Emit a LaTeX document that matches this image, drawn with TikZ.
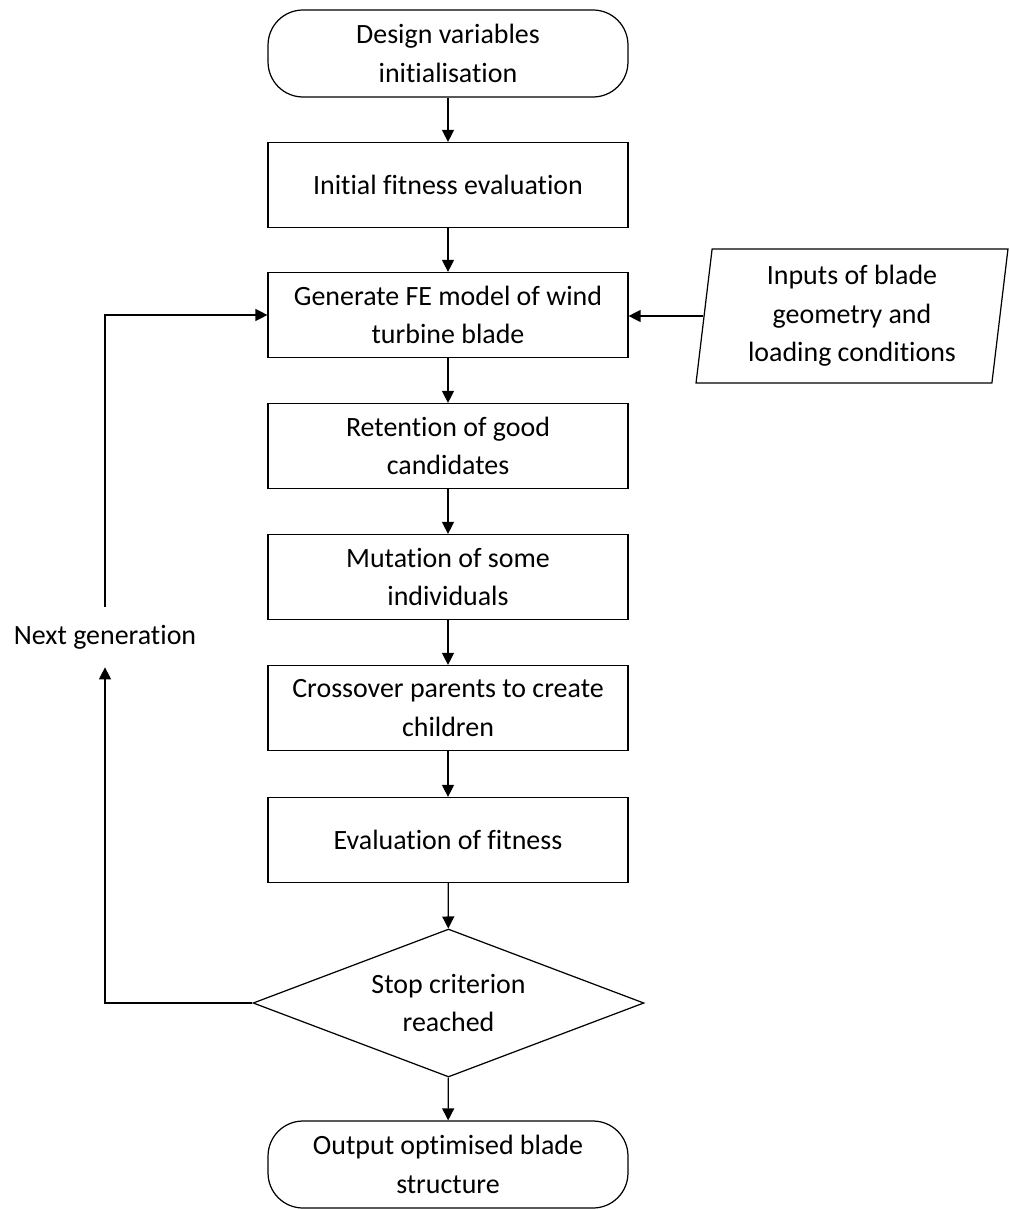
\documentclass[tikz,border=0pt]{standalone}
\usepackage{fontspec}
\setmainfont{Carlito}[Ligatures=NoCommon]
\usetikzlibrary{shapes.geometric, arrows.meta}

\tikzset{
  stepbox/.style={draw, line width=0.7pt, minimum width=7.2cm, minimum height=1.7cm, align=center, inner sep=0pt},
  termbox/.style={stepbox, rounded corners=0.7cm, minimum height=1.74cm},
  testbox/.style={draw, line width=0.7pt, diamond, aspect=2.64, minimum width=7.82cm, minimum height=2.96cm, align=center, inner sep=0pt},
  iobox/.style={draw, line width=0.7pt, trapezium, trapezium left angle=81, trapezium right angle=99, trapezium stretches body, minimum width=6.24cm, minimum height=2.68cm, align=center, inner sep=0pt},
  arr/.style={line width=0.7pt, -{Triangle[length=0.24cm, width=0.24cm]}}
}

\begin{document}
\begin{tikzpicture}[x=0.02cm, y=-0.02cm, font=\fontsize{15.9pt}{22pt}\selectfont]
\useasboundingbox (0,0) rectangle (1009,1209);

% main column
\node[termbox] (start) at (448,53.5) {Design variables\\initialisation};
\node[stepbox] (init) at (448,185) {Initial fitness evaluation};
\node[stepbox] (gen) at (448,315) {Generate FE model of wind\\turbine blade};
\node[stepbox] (ret) at (448,446) {Retention of good\\candidates};
\node[stepbox] (mut) at (448,577) {Mutation of some\\individuals};
\node[stepbox] (cross) at (448,708) {Crossover parents to create\\children};
\node[stepbox] (eval) at (448,840) {Evaluation of fitness};
\node[testbox] (stop) at (448.5,1003) {Stop criterion\\reached};
\node[termbox] (out) at (448,1164.5) {Output optimised blade\\structure};

% side nodes
\node[iobox] (inp) at (852,316) {Inputs of blade\\geometry and\\loading conditions};
\node[minimum height=1.2cm, inner sep=0pt] (next) at (105,637) {Next generation};

\draw[arr](start)to(init);
\draw[arr](init)to(gen);
\draw[arr](gen)to(ret);
\draw[arr](ret)to(mut);
\draw[arr](mut)to(cross);
\draw[arr](cross)to(eval);
\draw[arr](eval)to(stop);
\draw[arr](stop)to(out);

\draw[arr](inp.left side)to(gen.east |- inp.left side);
\draw[arr](stop.west)-|(next.south);
\draw[arr](next.north)|-(gen.west);

\end{tikzpicture}
\end{document}
